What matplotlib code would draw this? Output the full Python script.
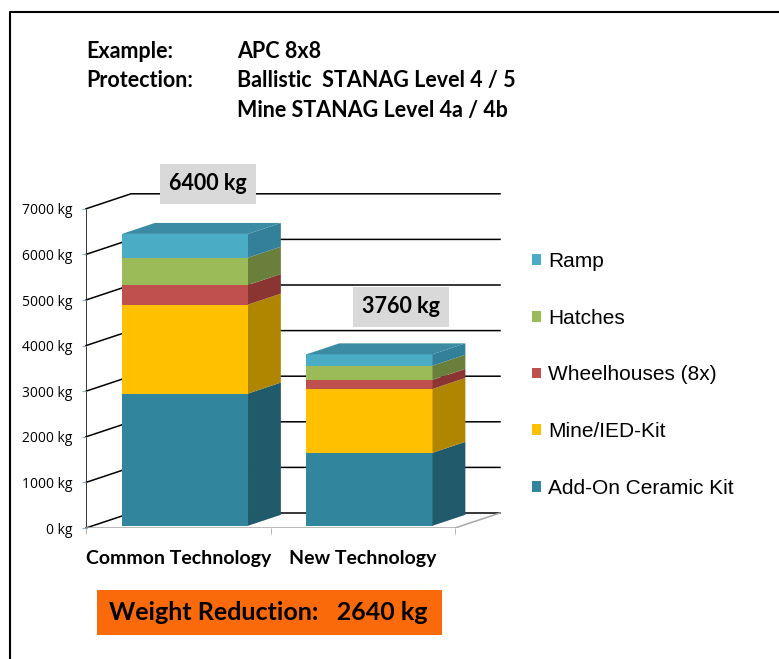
import matplotlib
matplotlib.use("Agg")
import matplotlib.pyplot as plt
from matplotlib.patches import Polygon, Rectangle
from matplotlib.lines import Line2D
import numpy as np

# ---------------- data ----------------
categories = ["Common Technology", "New Technology"]
series_names = ["Add-On Ceramic Kit", "Mine/IED-Kit", "Wheelhouses (8x)", "Hatches", "Ramp"]
ceramic = [2900, 1600]
mine_ied = [1950, 1400]
wheelhouses = [430, 200]
hatches = [600, 310]
ramp = [520, 250]
series_values = [ceramic, mine_ied, wheelhouses, hatches, ramp]
y_ticks = [0, 1000, 2000, 3000, 4000, 5000, 6000, 7000]

front_colors = ["#31859C", "#FFC000", "#C0504D", "#9BBB59", "#4BACC6"]
side_colors = ["#215A6A", "#B08600", "#8A3532", "#6A7F3C", "#32809A"]
top_color = "#3A8BA3"

FONT_B = "Lato"
FONT_L = "Liberation Sans"

W, H = 779, 659
fig = plt.figure(figsize=(W / 100, H / 100), dpi=100)

# axes placement (pixels)
px_per_x = 184.5
px_per_kg = 0.0456
x0_pix = 86            # x = -0.5
y0_pix = 528           # y = 0
xlim = (-0.5, 1.77)
ylim = (0, 7400)
ax_w = (xlim[1] - xlim[0]) * px_per_x
ax_h = (ylim[1] - ylim[0]) * px_per_kg
ax = fig.add_axes([x0_pix / W, (H - y0_pix) / H, ax_w / W, ax_h / H])
ax.set_xlim(*xlim)
ax.set_ylim(*ylim)
for s in ax.spines.values():
    s.set_visible(False)

# depth projection (back wall offset in data units)
DX = 45 / px_per_x
DY = 15 / px_per_kg
d_front, d_back = 0.15, 0.88

n = len(categories)
xs = np.arange(n)
xmin_f, xmax_f = -0.5, n - 0.5

# gridlines / walls
for v in y_ticks:
    ax.plot([xmin_f, xmin_f + DX, xmax_f + DX], [v, v + DY, v + DY],
            color="black", lw=1.1, zorder=1, clip_on=False)
ax.plot([xmin_f, xmin_f], [0, y_ticks[-1]], color="black", lw=1.1, zorder=1)
ax.plot([xmin_f, xmax_f, xmax_f + DX], [0, 0, DY], color="#A6A6A6", lw=1.1, zorder=1)

# bars
bar_w = 0.683
bottoms = np.zeros(n)
for i, vals in enumerate(series_values):
    vals = np.array(vals, dtype=float)
    xc = xs + d_front * DX
    yb = bottoms + d_front * DY
    ax.bar(xc, vals, bottom=yb, width=bar_w, color=front_colors[i],
           edgecolor="none", zorder=3, label=series_names[i])
    dd = d_back - d_front
    for j in range(n):
        xr = xc[j] + bar_w / 2
        b, t = yb[j], yb[j] + vals[j]
        ax.add_patch(Polygon([(xr, b), (xr + dd * DX, b + dd * DY),
                              (xr + dd * DX, t + dd * DY), (xr, t)],
                             closed=True, facecolor=side_colors[i],
                             edgecolor="none", zorder=3))
        if i == len(series_values) - 1:
            xl = xc[j] - bar_w / 2
            ax.add_patch(Polygon([(xl, t), (xr, t), (xr + dd * DX, t + dd * DY),
                                  (xl + dd * DX, t + dd * DY)],
                                 closed=True, facecolor=top_color,
                                 edgecolor="none", zorder=3))
    bottoms = bottoms + vals

totals = bottoms

# y axis ticks
ax.set_yticks(y_ticks)
ax.set_yticklabels([f"{v} kg" for v in y_ticks], fontfamily="Open Sans", fontsize=10)
ax.tick_params(axis="y", length=3, color="#8EA9DB", pad=7)

# x axis
ax.set_xticks(xs)
ax.set_xticklabels(categories, fontfamily=FONT_B, fontweight="bold", fontsize=14)
ax.tick_params(axis="x", length=0, pad=16)
ax.set_xticks([-0.5, 0.5, 1.5], minor=True)
ax.tick_params(axis="x", which="minor", length=4, color="#A6A6A6", direction="out")

# total labels
label_pix = [(208, 184), (401, 307)]
for j in range(n):
    px, py = label_pix[j]
    fig.text(px / W, 1 - py / H, f"{totals[j]:.0f} kg", ha="center", va="center",
             fontfamily=FONT_B, fontweight="bold", fontsize=15.5,
             bbox=dict(boxstyle="square,pad=0.42", facecolor="#D9D9D9", edgecolor="none"))

# header
hdr = dict(fontfamily=FONT_B, fontweight="bold", fontsize=15.5, va="baseline", ha="left")
fig.text(86 / W, 1 - 58 / H, "Example:", **hdr)
fig.text(237 / W, 1 - 58 / H, "APC 8x8", **hdr)
fig.text(86 / W, 1 - 87 / H, "Protection:", **hdr)
fig.text(237 / W, 1 - 87 / H, "Ballistic  STANAG Level 4 / 5", **hdr)
fig.text(237 / W, 1 - 117 / H, "Mine STANAG Level 4a / 4b", **hdr)

# legend
handles, labels = ax.get_legend_handles_labels()
leg = fig.legend(handles[::-1], labels[::-1], loc="upper left",
                 bbox_to_anchor=(532 / W, 1 - 252 / H), frameon=False,
                 prop=dict(family=FONT_L, size=15), labelspacing=1.81,
                 handlelength=0.43, handleheight=0.43, handletextpad=0.33,
                 borderaxespad=0, borderpad=0)

# weight reduction box
fig.patches.append(Rectangle((97 / W, 1 - 635 / H), (442 - 97) / W, 45 / H,
                             transform=fig.transFigure, facecolor="#FA6A0A",
                             edgecolor="none", zorder=1))
fig.text(268 / W, 1 - 613 / H, f"Weight Reduction:   {totals[0] - totals[1]:.0f} kg",
         ha="center", va="center", fontfamily=FONT_B, fontweight="bold", fontsize=18, zorder=2)

# frame (top + left)
fig.add_artist(Line2D([9.5 / W, 9.5 / W, 1], [0, 1 - 12 / H, 1 - 12 / H],
                      transform=fig.transFigure, color="black", lw=1.5))

fig.savefig("out.png", dpi=100)
